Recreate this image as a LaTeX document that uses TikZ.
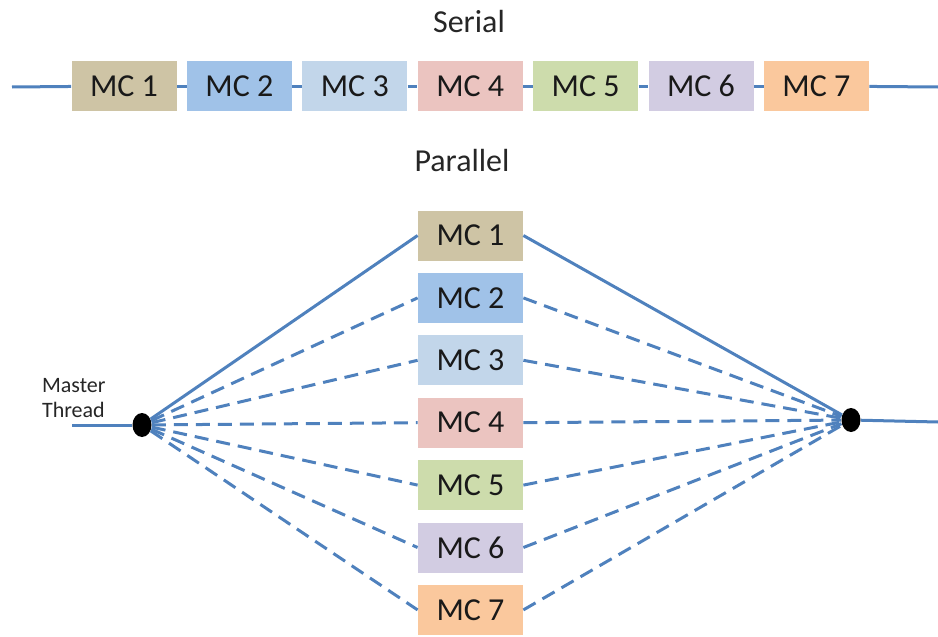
\documentclass[tikz,border=0pt]{standalone}
\usepackage{fontspec}
\setmainfont{Carlito}
\usetikzlibrary{shapes.geometric}
\definecolor{linkblue}{RGB}{79,129,189}
\definecolor{mcA}{RGB}{206,196,165}
\definecolor{mcB}{RGB}{160,194,232}
\definecolor{mcC}{RGB}{194,214,234}
\definecolor{mcD}{RGB}{235,196,192}
\definecolor{mcE}{RGB}{205,220,172}
\definecolor{mcF}{RGB}{210,204,226}
\definecolor{mcG}{RGB}{250,200,157}
\begin{document}
\begin{tikzpicture}[x=0.5pt,y=-0.5pt,
    mcbox/.style={minimum width=52.5pt, minimum height=25pt, inner sep=0pt,
        text=black!90, font=\fontsize{16}{19}\selectfont},
    thread/.style={draw=linkblue, line width=1.5pt},
    forked/.style={thread, dash pattern=on 7pt off 4pt},
    joint/.style={ellipse, fill=black, minimum width=9.5pt, minimum height=12pt, inner sep=0pt}]
    \useasboundingbox (0,0) rectangle (938,637);
    % Serial row
    \node[font=\fontsize{16}{19}\selectfont, text=black!85] (serial) at (469,22) {Serial};
    \coordinate (sin) at (12,87);
    \coordinate (sout) at (938,87);
    \foreach \i/\c in {1/mcA,2/mcB,3/mcC,4/mcD,5/mcE,6/mcF,7/mcG} {
        \pgfmathsetmacro{\x}{124 + 115.4*(\i-1)}
        \node[mcbox, fill=\c] (s\i) at (\x,86) {MC \i};
    }
    \draw[thread] (sin) -- (s1);
    \foreach \i [evaluate=\i as \j using int(\i+1)] in {1,...,6}
        \draw[thread] (s\i) -- (s\j);
    \draw[thread] (s7) -- (sout);
    % Parallel fork and join
    \node[font=\fontsize{16}{19}\selectfont, text=black!85] (parallel) at (462,161) {Parallel};
    \node[align=left, anchor=west, font=\fontsize{11}{12.5}\selectfont, text=black!85] (master) at (35,398) {Master\\Thread};
    \coordinate (pin) at (72,425);
    \coordinate (pout) at (938,422);
    \foreach \i/\c in {1/mcA,2/mcB,3/mcC,4/mcD,5/mcE,6/mcF,7/mcG} {
        \pgfmathsetmacro{\y}{235.5 + 62.4*(\i-1)}
        \node[mcbox, fill=\c] (p\i) at (470.5,\y) {MC \i};
    }
    \node[joint] (fork) at (142,425) {};
    \node[joint] (join) at (851,420) {};
    \draw[thread] (pin) -- (fork);
    \draw[thread] (join) -- (pout);
    \draw[thread] (fork) -- (p1.west);
    \draw[thread] (p1.east) -- (join);
    \foreach \i in {2,...,7} {
        \draw[forked] (fork) -- (p\i.west);
        \draw[forked] (p\i.east) -- (join);
    }
\end{tikzpicture}
\end{document}
